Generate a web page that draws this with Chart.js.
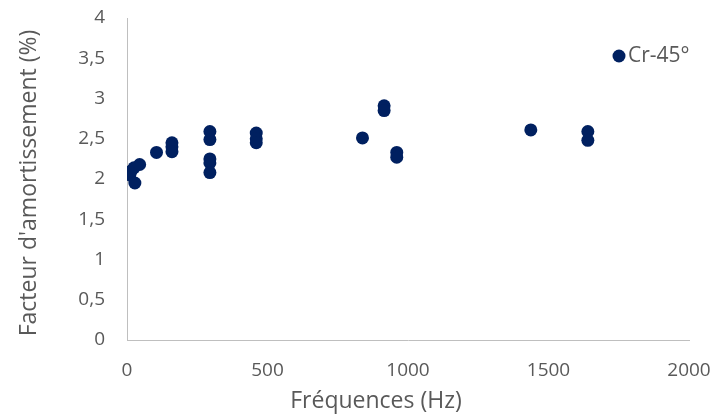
<!DOCTYPE html>
<html>
<head>
<meta charset="utf-8">
<script src="https://cdn.jsdelivr.net/npm/chart.js@4"></script>
<style>
  html, body { margin: 0; padding: 0; background: #fff; }
  #wrap { width: 725px; height: 417px; }
</style>
</head>
<body>
<div id="wrap"><canvas id="chart"></canvas></div>
<script>
// values
const seriesLabel = 'Cr-45°';
const xTitle = 'Fréquences (Hz)';
const yTitle = "Facteur d'amortissement (%)";
const frequences = [10, 15, 25, 45, 28, 105, 160, 160, 160, 295, 295, 295, 295, 295, 460, 460, 460, 838, 915, 915, 960, 960, 1437, 1640, 1640];
const amortissement = [2.05, 2.1, 2.14, 2.18, 1.95, 2.33, 2.45, 2.4, 2.34, 2.59, 2.49, 2.25, 2.2, 2.08, 2.57, 2.5, 2.45, 2.51, 2.91, 2.85, 2.33, 2.27, 2.61, 2.59, 2.48];

const textColor = '#595959';
const axisColor = '#bfbfbf';
const dotColor = '#002060';
Chart.defaults.font.family = '"Open Sans", sans-serif';
Chart.defaults.color = textColor;

// legend inside the plot (top right) and the axis titles, placed like the Excel original
const decorations = {
  id: 'decorations',
  afterDraw(chart) {
    const ctx = chart.ctx;
    const area = chart.chartArea;
    const ds = chart.data.datasets[0];
    const x = area.right - 70, y = area.top + 38;
    ctx.save();
    ctx.fillStyle = ds.backgroundColor;
    ctx.beginPath();
    ctx.arc(x, y, 6.5, 0, Math.PI * 2);
    ctx.fill();
    ctx.fillStyle = textColor;
    ctx.font = '21px "Open Sans", sans-serif';
    ctx.textBaseline = 'middle';
    ctx.fillText(ds.label, x + 9, y);

    ctx.font = '23px "Open Sans", sans-serif';
    ctx.textAlign = 'center';
    ctx.fillText(xTitle, 376, chart.height - 16);
    ctx.translate(29, 183);
    ctx.rotate(-Math.PI / 2);
    ctx.fillText(yTitle, 0, 0);
    ctx.restore();
  }
};

new Chart(document.getElementById('chart'), {
  type: 'scatter',
  data: {
    datasets: [{
      label: seriesLabel,
      data: frequences.map((f, i) => ({ x: f, y: amortissement[i] })),
      backgroundColor: dotColor,
      borderColor: dotColor,
      pointRadius: 6.5,
      pointHoverRadius: 6.5,
      borderWidth: 0,
    }],
  },
  options: {
    responsive: true,
    maintainAspectRatio: false,
    animation: false,
    layout: { padding: { left: 0, top: 18, right: 36, bottom: 0 } },
    plugins: {
      legend: { display: false },
      tooltip: { enabled: false },
    },
    scales: {
      x: {
        type: 'linear',
        min: 0,
        max: 2000,
        ticks: { stepSize: 500, padding: 19, font: { size: 19 }, maxRotation: 0, callback: (v) => String(v) },
        grid: { display: false, drawTicks: false },
        border: { display: true, color: axisColor, width: 1 },
        afterFit(scale) {
          scale.height = 77;
          scale.paddingLeft = 0;
          scale.paddingRight = 0;
        },
      },
      y: {
        min: 0,
        max: 4,
        ticks: {
          stepSize: 0.5,
          padding: 22,
          font: { size: 19 },
          callback: (v) => String(v).replace('.', ','),
        },
        grid: { display: false, drawTicks: false },
        border: { display: true, color: axisColor, width: 1 },
        afterFit(scale) {
          scale.width = 127;
          scale.paddingTop = 0;
          scale.paddingBottom = 0;
        },
      },
    },
  },
  plugins: [decorations],
});
</script>
</body>
</html>
